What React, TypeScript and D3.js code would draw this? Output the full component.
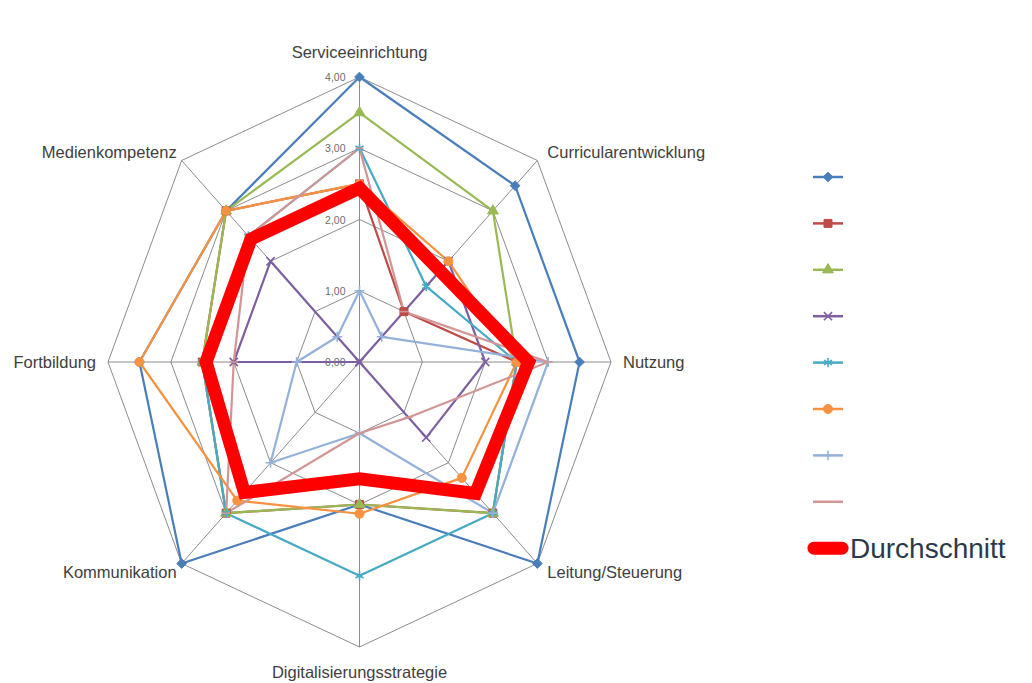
import { useEffect, useRef } from 'react'
import * as d3 from 'd3'

const axes = [
  'Serviceeinrichtung',
  'Curricularentwicklung',
  'Nutzung',
  'Leitung/Steuerung',
  'Digitalisierungsstrategie',
  'Kommunikation',
  'Fortbildung',
  'Medienkompetenz',
]

// one array per series, in axis order (clockwise from top)
const s1 = [4, 3.5, 3.5, 4, 2, 4, 3.5, 3]
const s2 = [2.5, 1, 2.5, 3, 2, 3, 2.5, 3]
const s3 = [3.5, 3, 2.5, 3, 2, 3, 2.5, 3]
const s4 = [0, 2, 2, 1.5, 0, 0, 2, 2]
const s5 = [3, 1.5, 2.5, 3, 3, 3, 2.5, 2.5]
const s6 = [2.5, 2, 2.5, 2.3, 2.13, 2.75, 3.5, 3]
const s7 = [1, 0.5, 3, 3, 1, 2, 1, 0.5]
const s8 = [3, 1, 3, 1.1, 1, 3, 2, 2.5]
const durchschnitt = [2.44, 1.81, 2.69, 2.61, 1.64, 2.59, 2.44, 2.44]

const ticks = [0, 1, 2, 3, 4]
const tickLabels = ['0,00', '1,00', '2,00', '3,00', '4,00']

const dash: d3.SymbolType = {
  draw(ctx, size) {
    const w = Math.sqrt(size) / 2
    ctx.moveTo(-w, 0)
    ctx.lineTo(w, 0)
  },
}

const SERIES = [
  { values: s1, color: '#4A7EBB', symbol: d3.symbolDiamond2, size: 60, fill: true },
  { values: s2, color: '#BE4B48', symbol: d3.symbolSquare, size: 64, fill: true },
  { values: s3, color: '#98B954', symbol: d3.symbolTriangle, size: 50, fill: true },
  { values: s4, color: '#7D60A0', symbol: d3.symbolX, size: 45, fill: false },
  { values: s5, color: '#46AAC5', symbol: d3.symbolAsterisk, size: 60, fill: false },
  { values: s6, color: '#F69240', symbol: d3.symbolCircle, size: 64, fill: true },
  { values: s7, color: '#93B1DA', symbol: d3.symbolPlus, size: 34, fill: false },
  { values: s8, color: '#D29594', symbol: dash, size: 64, fill: false },
]

const W = 1032
const H = 683
const CX = 359.5
const CY = 362
const FONT = '"Liberation Sans", Arial, sans-serif'

export default function App() {
  const svgRef = useRef<SVGSVGElement>(null)

  useEffect(() => {
    if (!svgRef.current) return
    const svg = d3.select(svgRef.current)
    svg.selectAll('*').remove()

    // the chart is stretched a bit more vertically than horizontally
    const rx = d3.scaleLinear().domain([0, 4]).range([0, 251.5])
    const ry = d3.scaleLinear().domain([0, 4]).range([0, 285])
    const angle = d3.scaleLinear().domain([0, axes.length]).range([0, 2 * Math.PI])

    const px = (v: number, i: number) => CX + rx(v) * Math.sin(angle(i))
    const py = (v: number, i: number) => CY - ry(v) * Math.cos(angle(i))

    const g = svg.append('g')

    // grid octagons
    ticks.slice(1).forEach(t => {
      const pts = axes.map((_, i) => [px(t, i), py(t, i)] as [number, number])
      g.append('path')
        .attr('d', d3.line().curve(d3.curveLinearClosed)(pts))
        .attr('fill', 'none').attr('stroke', '#8C8C8C').attr('stroke-width', 1)
    })

    // spokes
    axes.forEach((_, i) => {
      g.append('line')
        .attr('x1', CX).attr('y1', CY)
        .attr('x2', px(4, i)).attr('y2', py(4, i))
        .attr('stroke', '#8C8C8C').attr('stroke-width', 1)
    })

    // tick labels
    ticks.forEach((t, i) => {
      g.append('text')
        .attr('x', CX - 14).attr('y', py(t, 0))
        .attr('text-anchor', 'end').attr('dominant-baseline', 'central')
        .style('font-family', FONT).style('font-size', '10.5px').style('fill', '#6E6E6E')
        .text(tickLabels[i])
    })

    // category labels
    axes.forEach((name, i) => {
      const a = angle(i)
      const s = Math.round(Math.sin(a) * 1000) / 1000
      const c = Math.round(Math.cos(a) * 1000) / 1000
      let x = px(4, i)
      let y = py(4, i)
      let anchor = 'middle'
      if (s === 0) {
        y += c > 0 ? -25 : 25
      } else if (c === 0) {
        anchor = s > 0 ? 'start' : 'end'
        x += s > 0 ? 12 : -12
      } else {
        anchor = s > 0 ? 'start' : 'end'
        x += s > 0 ? 10 : -5
        y += c > 0 ? -8 : 8
      }
      g.append('text')
        .attr('x', x).attr('y', y)
        .attr('text-anchor', anchor).attr('dominant-baseline', 'central')
        .style('font-family', FONT).style('font-size', '16.5px').style('fill', '#404040')
        .text(name)
    })

    const line = d3.line<number>()
      .x((v, i) => px(v, i))
      .y((v, i) => py(v, i))
      .curve(d3.curveLinearClosed)

    SERIES.forEach(s => {
      g.append('path')
        .attr('d', line(s.values))
        .attr('fill', 'none').attr('stroke', s.color)
        .attr('stroke-width', 2.2).attr('stroke-linejoin', 'round')
    })

    SERIES.forEach(s => {
      const sym = d3.symbol(s.symbol, s.size)
      g.append('g').selectAll('path')
        .data(s.values)
        .join('path')
        .attr('transform', (v, i) => `translate(${px(v, i)},${py(v, i)})`)
        .attr('d', sym)
        .attr('fill', s.fill ? s.color : 'none')
        .attr('stroke', s.color)
        .attr('stroke-width', s.fill ? 1 : 1.6)
    })

    // Durchschnitt on top
    g.append('path')
      .attr('d', line(durchschnitt))
      .attr('fill', 'none').attr('stroke', '#FF0000')
      .attr('stroke-width', 13).attr('stroke-linejoin', 'miter')

    // legend
    const legend = g.append('g').attr('transform', 'translate(828,177)')
    SERIES.forEach((s, i) => {
      const item = legend.append('g').attr('transform', `translate(0,${i * 46.4})`)
      item.append('line')
        .attr('x1', -15).attr('x2', 15)
        .attr('stroke', s.color).attr('stroke-width', 2.5)
      item.append('path')
        .attr('d', d3.symbol(s.symbol, s.size)())
        .attr('fill', s.fill ? s.color : 'none')
        .attr('stroke', s.color)
        .attr('stroke-width', s.fill ? 1 : 1.6)
    })
    const avgLeg = legend.append('g').attr('transform', `translate(0,${SERIES.length * 46.4})`)
    avgLeg.append('line')
      .attr('x1', -14).attr('x2', 14)
      .attr('stroke', '#FF0000').attr('stroke-width', 13).attr('stroke-linecap', 'round')
    avgLeg.append('text')
      .attr('x', 22).attr('y', 0).attr('dominant-baseline', 'central')
      .style('font-family', FONT).style('font-size', '28px').style('fill', '#2B3A4A')
      .text('Durchschnitt')
  }, [])

  return (
    <div style={{ position: 'absolute', left: 0, top: 0, width: W, height: H, background: '#fff' }}>
      <svg ref={svgRef} width={W} height={H} />
    </div>
  )
}
